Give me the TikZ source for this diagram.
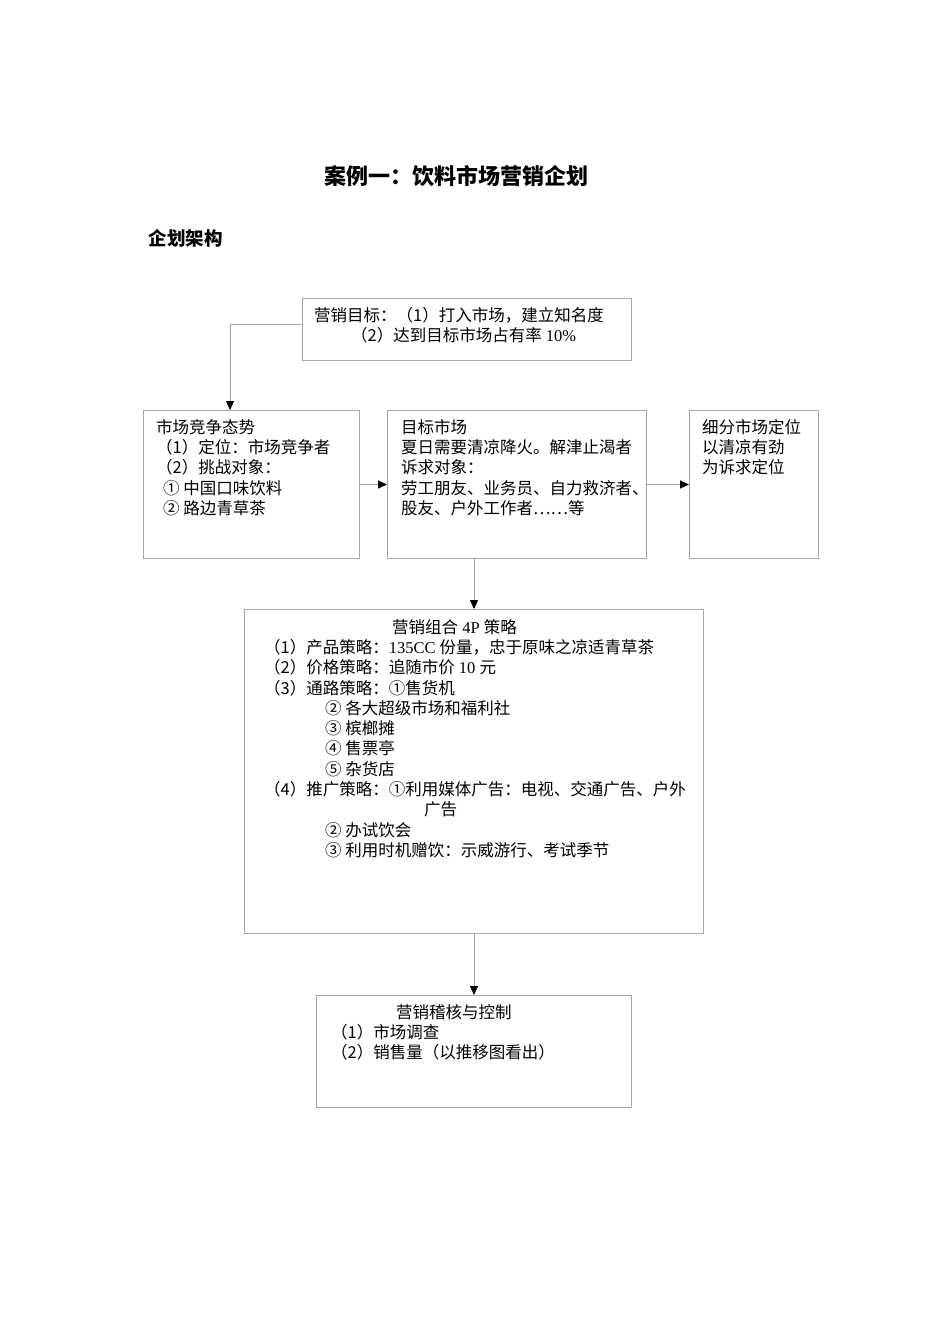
\documentclass[tikz,border=0pt]{standalone}
\usepackage{fontspec}
\setmainfont{Noto Sans CJK SC}
\newfontfamily\lat{Liberation Serif}
\usetikzlibrary{arrows.meta}
\definecolor{boxgray}{HTML}{A6A6A6}
\tikzset{
  box/.style={draw=boxgray, line width=1pt, anchor=north west, inner sep=0pt},
  txt/.style={anchor=north west, inner sep=0pt, align=left, font=\fontsize{16.5pt}{20.3pt}\selectfont},
  link/.style={draw=boxgray, line width=1pt, -{Triangle[length=9pt,width=8pt,color=black]}}
}
\begin{document}
\begin{tikzpicture}[x=1pt,y=-1pt]
\useasboundingbox[fill=white] (0,0) rectangle (950,1344);
\node[font=\fontsize{22pt}{26pt}\selectfont\bfseries] (title) at (456,176) {案例一：饮料市场营销企划};
\node[anchor=west, font=\fontsize{18.5pt}{22pt}\selectfont\bfseries] (plan) at (145,238) {企划架构};

\node[box, minimum width=329pt, minimum height=62pt] (goal) at (302,298) {};
\node[box, minimum width=216pt, minimum height=148pt] (comp) at (143,410) {};
\node[box, minimum width=259pt, minimum height=148pt] (target) at (387,410) {};
\node[box, minimum width=129pt, minimum height=148pt] (seg) at (689,410) {};
\node[box, minimum width=459pt, minimum height=324pt] (fourp) at (244,609) {};
\node[box, minimum width=315pt, minimum height=112pt] (ctrl) at (316,995) {};

\node[txt] (goaltxt) at (314,307) {营销目标：（1）打入市场，建立知名度\\\hspace*{37pt}（2）达到目标市场占有率{\lat\ 10\%}};
\node[txt] (comptxt) at (156,419) {市场竞争态势\\（1）定位：市场竞争者\\（2）挑战对象：\\\hspace*{7pt}① 中国口味饮料\\\hspace*{7pt}② 路边青草茶};
\node[txt] (targettxt) at (401,419) {目标市场\\夏日需要清凉降火。解津止渴者\\诉求对象：\\劳工朋友、业务员、自力救济者、\\股友、户外工作者……等};
\node[txt] (segtxt) at (702,419) {细分市场定位\\以清凉有劲\\为诉求定位};
\node[txt] (fourptxt) at (264,619) {\hspace*{128pt}营销组合{\lat\ 4P }策略\\
  （1）产品策略：{\lat 135CC }份量，忠于原味之凉适青草茶\\
  （2）价格策略：追随市价{\lat\ 10 }元\\
  （3）通路策略：①售货机\\
  \hspace*{61pt}② 各大超级市场和福利社\\
  \hspace*{61pt}③ 槟榔摊\\
  \hspace*{61pt}④ 售票亭\\
  \hspace*{61pt}⑤ 杂货店\\
  （4）推广策略：①利用媒体广告：电视、交通广告、户外\\
  \hspace*{160pt}广告\\
  \hspace*{61pt}② 办试饮会\\
  \hspace*{61pt}③ 利用时机赠饮：示威游行、考试季节};
\node[txt] (ctrltxt) at (331,1004) {\hspace*{65pt}营销稽核与控制\\（1）市场调查\\（2）销售量（以推移图看出）};

\coordinate (bend) at (230,324);
\draw[link] (goal.west |- bend) -- (bend) -- (bend |- comp.north);
\draw[link] (comp.east) -- (target.west);
\draw[link] (target.east) -- (seg.west);
\draw[link] (target.south -| fourp.north) -- (fourp.north);
\draw[link] (fourp.south) -- (ctrl.north);
\end{tikzpicture}
\end{document}
